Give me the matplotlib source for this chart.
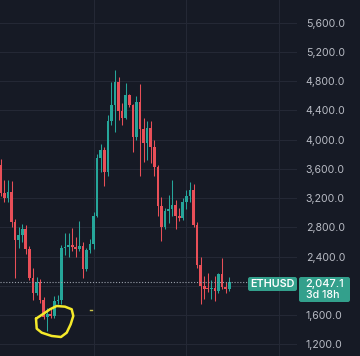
import matplotlib
matplotlib.use('Agg')
import matplotlib.pyplot as plt
import matplotlib.dates as mdates
from matplotlib.patches import FancyBboxPatch
from matplotlib.ticker import FuncFormatter
import numpy as np
import pandas as pd

# weekly ETHUSD candles
first_week = '2025-01-06'
opens = [3650, 3270, 3200, 3290, 2870, 2630, 2700, 2780, 2510, 2110,
         1900, 2050, 1800, 1580, 1620, 1590, 1790, 1810, 2520, 2530,
         2560, 2530, 2500, 2540, 2230, 2490, 2570, 2960, 3750, 3860,
         3560, 4260, 4480, 4790, 4390, 4300, 4610, 4470, 4040, 4510,
         4150, 3960, 4160, 3900, 3630, 3090, 2800, 3030, 3050, 3110,
         2960, 2930, 3150, 3230, 3310, 2830, 2280, 2000, 1960, 1950,
         1970, 1930, 2160, 1990, 1960]
highs = [3740, 3450, 3450, 3430, 2920, 2800, 2850, 2830, 2550, 2250,
         2120, 2100, 1850, 1690, 1700, 1860, 1870, 2560, 2720, 2720,
         2790, 2670, 2880, 2600, 2520, 2640, 3010, 3800, 3940, 3900,
         4330, 4790, 4956, 4860, 4500, 4770, 4630, 4490, 4590, 4760,
         4290, 4250, 4250, 4000, 3650, 3210, 3060, 3240, 3450, 3180,
         3060, 3200, 3310, 3420, 3390, 2870, 2400, 2140, 2170, 2080,
         2140, 2180, 2380, 2050, 2120]
lows = [3230, 3150, 3150, 2800, 2110, 2520, 2600, 2430, 2080, 1800,
        1880, 1760, 1540, 1385, 1560, 1560, 1750, 1750, 2420, 2400,
        2470, 2390, 2470, 2110, 2200, 2450, 2500, 2940, 3560, 3360,
        3500, 4200, 4100, 4270, 4200, 4280, 4440, 3830, 3990, 3500,
        3700, 3720, 3680, 3500, 2950, 2620, 2780, 2860, 2950, 2780,
        2880, 2900, 3050, 3150, 2800, 2250, 1750, 1820, 1920, 1820,
        1790, 1900, 1960, 1900, 1930]
closes = [3270, 3200, 3290, 2870, 2630, 2700, 2780, 2510, 2110, 1900,
          2050, 1800, 1580, 1620, 1590, 1790, 1810, 2520, 2530, 2560,
          2530, 2500, 2540, 2230, 2490, 2570, 2960, 3750, 3860, 3560,
          4260, 4480, 4790, 4390, 4300, 4610, 4470, 4040, 4510, 4150,
          3960, 4160, 3900, 3630, 3090, 2800, 3030, 3050, 3110, 2960,
          2930, 3150, 3230, 3310, 2830, 2280, 2000, 1960, 1950, 1970,
          1930, 2160, 1990, 1960, 2047.1]

price_ticks = [1200, 1600, 2000, 2400, 2800, 3200, 3600, 4000, 4400, 4800, 5200, 5600]
time_grid = ['2025-07-07', '2026-01-05', '2026-07-06']
symbol = 'ETHUSD'
last_price = 2047.1
countdown = '3d 18h'

# hand drawn yellow ring around the April low (weeks from first_week, price)
ring_weeks = [9.86, 10.06, 11.46, 14.26, 16.86, 18.46, 19.58, 20.31,
              19.86, 17.98, 15.66, 13.78, 11.74, 9.86]
ring_prices = [1551, 1414, 1359, 1314, 1300, 1359, 1474, 1588,
               1679, 1715, 1724, 1679, 1611, 1551]
dash_weeks = [25.0, 25.6]
dash_prices = [1669, 1669]

BG = '#161a25'
GRID = '#242835'
UP = '#26a69a'
DOWN = '#e84f58'
TEXT = '#b8bbc4'
BADGE = '#33a08c'
MARKER = '#f5ea2a'

W, H = 360, 356


def PriceLabel(v, _):
    # the price badge covers the scale label nearest the last price
    if abs(v - last_price) < 150:
        return ''
    return f'{v:,.1f}'


def Main():
    plt.rcParams['font.family'] = ['Inter', 'DejaVu Sans']
    fig = plt.figure(figsize=(W / 100, H / 100), dpi=100)
    fig.patch.set_facecolor(BG)
    ax = fig.add_axes([0, 0, 297 / W, 1])
    ax.set_facecolor(BG)

    dates = pd.date_range(first_week, periods=len(opens), freq='7D')
    x = mdates.date2num(dates)
    o, h, l, c = map(np.array, (opens, highs, lows, closes))
    cols = np.where(c >= o, UP, DOWN)

    ax.vlines(x, l, h, colors=cols, lw=0.75, zorder=2)
    ax.bar(x, np.maximum(np.abs(c - o), 14), bottom=np.minimum(o, c),
           width=5.2, color=cols, lw=0, zorder=3)

    def wk(v):
        return x[0] + np.array(v) * 7

    ax.plot(wk(ring_weeks), ring_prices, color=MARKER, lw=1.8,
            solid_joinstyle='round', solid_capstyle='round', zorder=5)
    ax.plot(wk(dash_weeks), dash_prices, color='#c9c24a', lw=1.0, zorder=5)

    ax.axhline(last_price, color='#9aa0ab', lw=0.8, ls=(0, (1, 1.6)), zorder=4)

    ax.set_xlim(x[0] - 1.6, x[0] + 581)
    ax.set_ylim(1040, 5910)
    ax.set_yticks(price_ticks)
    ax.set_xticks(mdates.date2num(pd.to_datetime(time_grid)))
    ax.grid(True, color=GRID, lw=0.8)
    ax.set_axisbelow(True)
    ax.yaxis.tick_right()
    ax.yaxis.set_major_formatter(FuncFormatter(PriceLabel))
    ax.tick_params(length=0, labelbottom=False, labelsize=7.6,
                   labelcolor=TEXT, pad=6.3)
    for s in ax.spines.values():
        s.set_visible(False)

    # symbol badge and price badge on the scale
    def box(x0, y0, x1, y1):
        fig.patches.append(FancyBboxPatch(
            (x0 / W, 1 - y1 / H), (x1 - x0) / W, (y1 - y0) / H,
            boxstyle='round,pad=0,rounding_size=0.006',
            transform=fig.transFigure, fc=BADGE, ec='none', zorder=6))

    box(248, 277, 297, 291)
    box(299, 277, 350, 302)
    fig.text(272.5 / W, 1 - 284.3 / H, symbol, color='white', fontsize=7.8,
             fontweight='semibold', ha='center', va='center', zorder=7)
    fig.text(305.5 / W, 1 - 284.3 / H, f'{last_price:,.1f}', color='white',
             fontsize=7.9, fontweight='medium', ha='left', va='center', zorder=7)
    fig.text(305.5 / W, 1 - 295.5 / H, countdown, color='white',
             fontsize=7.6, fontweight='medium', ha='left', va='center', zorder=7)

    fig.savefig('out.png', dpi=100, facecolor=BG)


if __name__ == '__main__':
    Main()
